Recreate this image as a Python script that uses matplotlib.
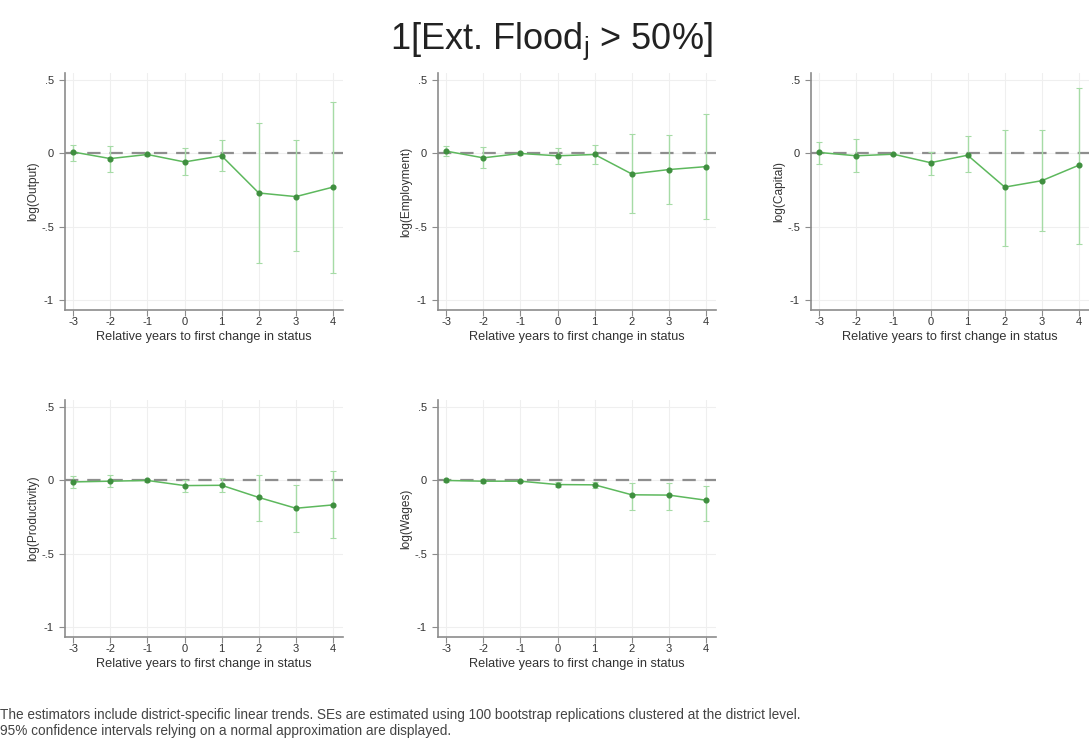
#!/usr/bin/env python3
# -*- coding: utf-8 -*-
"""Event-study panels for 1[Ext. Flood_j > 50%] (Stata-like look)."""

import matplotlib

matplotlib.use("Agg")
import matplotlib.pyplot as plt
import numpy as np

plt.rcParams.update(
    {
        "font.family": ["Liberation Sans", "DejaVu Sans"],
        "mathtext.fontset": "custom",
        "mathtext.rm": "Liberation Sans",
        "mathtext.it": "Liberation Sans:italic",
    }
)

YEARS = [-3, -2, -1, 0, 1, 2, 3, 4]

OUTPUT = [0.010, -0.035, -0.007, -0.058, -0.016, -0.270, -0.295, -0.230]
OUTPUT_LO = [-0.050, -0.130, -0.015, -0.150, -0.120, -0.750, -0.670, -0.820]
OUTPUT_HI = [0.060, 0.050, 0.002, 0.035, 0.095, 0.210, 0.095, 0.355]

EMPLOY = [0.016, -0.030, 0.000, -0.016, -0.007, -0.140, -0.110, -0.090]
EMPLOY_LO = [-0.020, -0.100, -0.008, -0.075, -0.075, -0.410, -0.345, -0.450]
EMPLOY_HI = [0.050, 0.045, 0.008, 0.035, 0.060, 0.130, 0.125, 0.270]

CAPITAL = [0.007, -0.016, -0.005, -0.063, -0.012, -0.230, -0.186, -0.080]
CAPITAL_LO = [-0.074, -0.130, -0.012, -0.144, -0.130, -0.630, -0.530, -0.620]
CAPITAL_HI = [0.077, 0.100, 0.003, 0.007, 0.120, 0.160, 0.160, 0.450]

PRODUCT = [-0.010, -0.005, 0.000, -0.035, -0.033, -0.116, -0.190, -0.167]
PRODUCT_LO = [-0.050, -0.045, -0.008, -0.080, -0.080, -0.280, -0.350, -0.395]
PRODUCT_HI = [0.030, 0.035, 0.008, 0.005, 0.020, 0.040, -0.030, 0.065]

WAGES = [0.000, -0.005, -0.005, -0.028, -0.030, -0.098, -0.100, -0.135]
WAGES_LO = [-0.010, -0.015, -0.012, -0.045, -0.050, -0.200, -0.205, -0.275]
WAGES_HI = [0.010, 0.008, 0.004, -0.012, -0.010, -0.020, -0.020, -0.035]

PANELS = [
    ("log(Output)", OUTPUT, OUTPUT_LO, OUTPUT_HI),
    ("log(Employment)", EMPLOY, EMPLOY_LO, EMPLOY_HI),
    ("log(Capital)", CAPITAL, CAPITAL_LO, CAPITAL_HI),
    ("log(Productivity)", PRODUCT, PRODUCT_LO, PRODUCT_HI),
    ("log(Wages)", WAGES, WAGES_LO, WAGES_HI),
]

Y_TICKS = [-1, -0.5, 0, 0.5]
Y_TICK_LABELS = ["-1", "-.5", "0", ".5"]

XLABEL = "Relative years to first change in status"
TITLE = r"1[Ext. Flood$_{\mathrm{j}}$ > 50%]"
NOTE = (
    "The estimators include district-specific linear trends. SEs are estimated "
    "using 100 bootstrap replications clustered at the district level.\n"
    "95% confidence intervals relying on a normal approximation are displayed."
)

LINE = "#5DB85D"
CI = "#A6DBA6"
MARK = "#3F8F3F"
AXIS = "#8C8C8C"
GRID = "#EFEFEF"
INK = "#333333"

W, H = 1089, 740
# panel boxes in pixels: left, top, width, height
LEFTS = [65, 438, 811]
TOPS = [73, 400]
PW, PH = 278, 237


def panel(fig, col, row):
    left = LEFTS[col] / W
    bottom = 1 - (TOPS[row] + PH) / H
    return fig.add_axes([left, bottom, PW / W, PH / H])


def draw(ax, ylabel, est, lo, hi):
    x = np.asarray(YEARS, dtype=float)
    est = np.asarray(est)
    lo = np.asarray(lo)
    hi = np.asarray(hi)

    ax.set_xlim(-3.22, 4.27)
    ax.set_ylim(-1.07, 0.55)
    for t in YEARS:
        ax.axvline(t, color=GRID, lw=0.8, zorder=0)
    for t in Y_TICKS:
        ax.axhline(t, color=GRID, lw=0.8, zorder=0)

    ax.axhline(0, color="#8E8E8E", lw=1.6, ls=(0, (6, 4)), zorder=2)
    ax.errorbar(
        x,
        est,
        yerr=[est - lo, hi - est],
        fmt="none",
        ecolor=CI,
        elinewidth=1.0,
        capsize=2.0,
        capthick=0.8,
        zorder=3,
    )
    ax.plot(x, est, color=LINE, lw=1.1, zorder=4)
    ax.plot(x, est, "o", color=MARK, ms=3.4, zorder=5)

    for side in ("top", "right"):
        ax.spines[side].set_visible(False)
    for side in ("left", "bottom"):
        ax.spines[side].set_color(AXIS)
        ax.spines[side].set_linewidth(1.2)

    ax.set_xticks(YEARS)
    ax.set_xticklabels([str(t) for t in YEARS])
    ax.set_yticks(Y_TICKS)
    ax.set_yticklabels(Y_TICK_LABELS)
    ax.tick_params(
        axis="both", labelsize=8.0, length=4, width=0.8, colors=AXIS,
        labelcolor=INK, pad=1.0,
    )
    ax.tick_params(axis="y", pad=4)
    ax.set_xlabel(XLABEL, fontsize=9.2, color=INK, labelpad=3)
    ax.set_ylabel(ylabel, fontsize=8.6, color=INK, labelpad=1.5)


def main():
    fig = plt.figure(figsize=(W / 100, H / 100), dpi=100, facecolor="white")
    slots = [(0, 0), (1, 0), (2, 0), (0, 1), (1, 1)]
    for (col, row), (ylabel, est, lo, hi) in zip(slots, PANELS):
        draw(panel(fig, col, row), ylabel, est, lo, hi)

    fig.text(551 / W, 1 - 41 / H, TITLE, ha="center", va="center",
             fontsize=26, color="#222222")
    fig.text(0.5 / W, 1 - 723 / H, NOTE, ha="left", va="center",
             fontsize=9.8, color="#444444", linespacing=1.12)

    fig.savefig("out.png", dpi=100, facecolor="white")
    plt.close(fig)


if __name__ == "__main__":
    main()
